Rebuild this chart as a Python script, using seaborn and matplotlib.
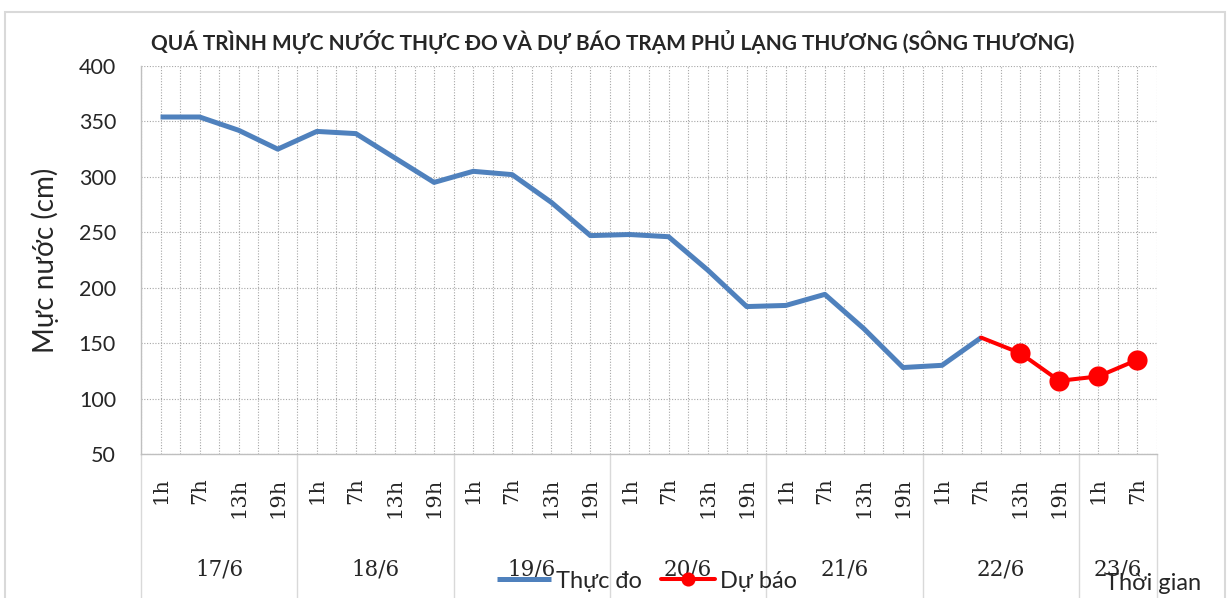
import matplotlib
matplotlib.use("Agg")
import matplotlib.pyplot as plt
from matplotlib.patches import Rectangle
import seaborn as sns
import pandas as pd
import numpy as np

# ---- data ----
days = ["17/6", "18/6", "19/6", "20/6", "21/6", "22/6", "23/6"]
hours_per_day = [4, 4, 4, 4, 4, 4, 2]
hour_cycle = ["1h", "7h", "13h", "19h"]
observed = [354, 354, 342, 325, 341, 339, 317, 295, 305, 302, 277, 247,
            248, 246, 216, 183, 184, 194, 163, 128, 130, 155]
forecast = [155, 141, 116, 120, 135]
y_ticks = [50, 100, 150, 200, 250, 300, 350, 400]

title = "QUÁ TRÌNH MỰC NƯỚC THỰC ĐO VÀ DỰ BÁO TRẠM PHỦ LẠNG THƯƠNG (SÔNG THƯƠNG)"
ylabel = "Mực nước (cm)"
xlabel = "Thời gian"
obs_name = "Thực đo"
fc_name = "Dự báo"

hour_labels = [h for n in hours_per_day for h in hour_cycle[:n]]
n_cat = len(hour_labels)
obs_df = pd.DataFrame({"x": np.arange(len(observed)), "y": observed})
fc_start = len(observed) - 1
fc_df = pd.DataFrame({"x": np.arange(fc_start, fc_start + len(forecast)), "y": forecast})

sns.set_style("white")
plt.rcParams["font.family"] = ["Lato", "DejaVu Sans"]

W, H = 1227, 598
fig = plt.figure(figsize=(W / 100, H / 100), dpi=100)
L, R, T, B = 141, 1157, 66, 454
ax = fig.add_axes([L / W, 1 - B / H, (R - L) / W, (B - T) / H])

blue = "#4F81BD"
red = "#FF0000"

sns.lineplot(data=obs_df, x="x", y="y", ax=ax, color=blue, lw=3.6,
             label=obs_name, solid_capstyle="butt", zorder=3)
sns.lineplot(data=fc_df, x="x", y="y", ax=ax, color=red, lw=2.9,
             marker="o", markersize=14.5, markeredgewidth=0,
             markevery=list(range(1, len(forecast))), label=fc_name, zorder=4)

ax.set_xlim(-0.5, n_cat - 0.5)
ax.set_ylim(y_ticks[0], y_ticks[-1])
ax.set_yticks(y_ticks)
ax.set_xticks(np.arange(n_cat))
ax.set_xticklabels(hour_labels, rotation=90, family=["DejaVu Serif"], fontsize=15)
ax.set_xticks(np.arange(n_cat + 1) - 0.5, minor=True)
ax.tick_params(axis="x", which="both", length=0, pad=17)
ax.tick_params(axis="y", length=0, pad=18, labelsize=15.5)
for lab in ax.get_xticklabels():
    lab.set_va("top")

ax.grid(True, axis="x", which="both", linestyle=(0, (1, 1.5)), color="#a6a6a6", lw=0.8)
ax.grid(True, axis="y", which="major", linestyle=(0, (1, 1.5)), color="#a6a6a6", lw=0.8)
for s in ["top", "right"]:
    ax.spines[s].set_visible(False)
for s in ["left", "bottom"]:
    ax.spines[s].set_color("#bfbfbf")
    ax.spines[s].set_linewidth(1.0)

ax.set_xlabel("")
ax.set_ylabel(ylabel, fontsize=20, labelpad=14)

# date groups below the axis
xt = ax.get_xaxis_transform()
bounds = np.concatenate([[0], np.cumsum(hours_per_day)]) - 0.5
y_bottom = -(H - B) / (B - T)
for b in bounds:
    ax.plot([b, b], [0, y_bottom], transform=xt, color="#d9d9d9", lw=1.0, clip_on=False)
for i, d in enumerate(days):
    cx = (bounds[i] + bounds[i + 1]) / 2
    ax.text(cx, -(570 - B) / (B - T), d, transform=xt, ha="center", va="center",
            family=["DejaVu Serif"], fontsize=15.5)

# legend
leg = ax.legend(loc="center left", bbox_to_anchor=(497 / W, 1 - 581 / H),
                bbox_transform=fig.transFigure, ncol=2, frameon=False,
                fontsize=17, handlelength=2.3, handletextpad=0.2,
                columnspacing=0.8, borderpad=0, borderaxespad=0,
                markerscale=0.7)

fig.text(1105 / W, 1 - 583 / H, xlabel, ha="left", va="center", fontsize=17)
fig.text(613 / W, 1 - 42 / H, title, ha="center", va="center",
         fontsize=15, fontweight="bold")

# chart-area border
fig.patches.append(Rectangle((5 / W, -0.05), (1225 - 5) / W, 1.05 - 12 / H,
                             transform=fig.transFigure, fill=False,
                             edgecolor="#d9d9d9", lw=1.5))

fig.savefig("out.png", dpi=100)
